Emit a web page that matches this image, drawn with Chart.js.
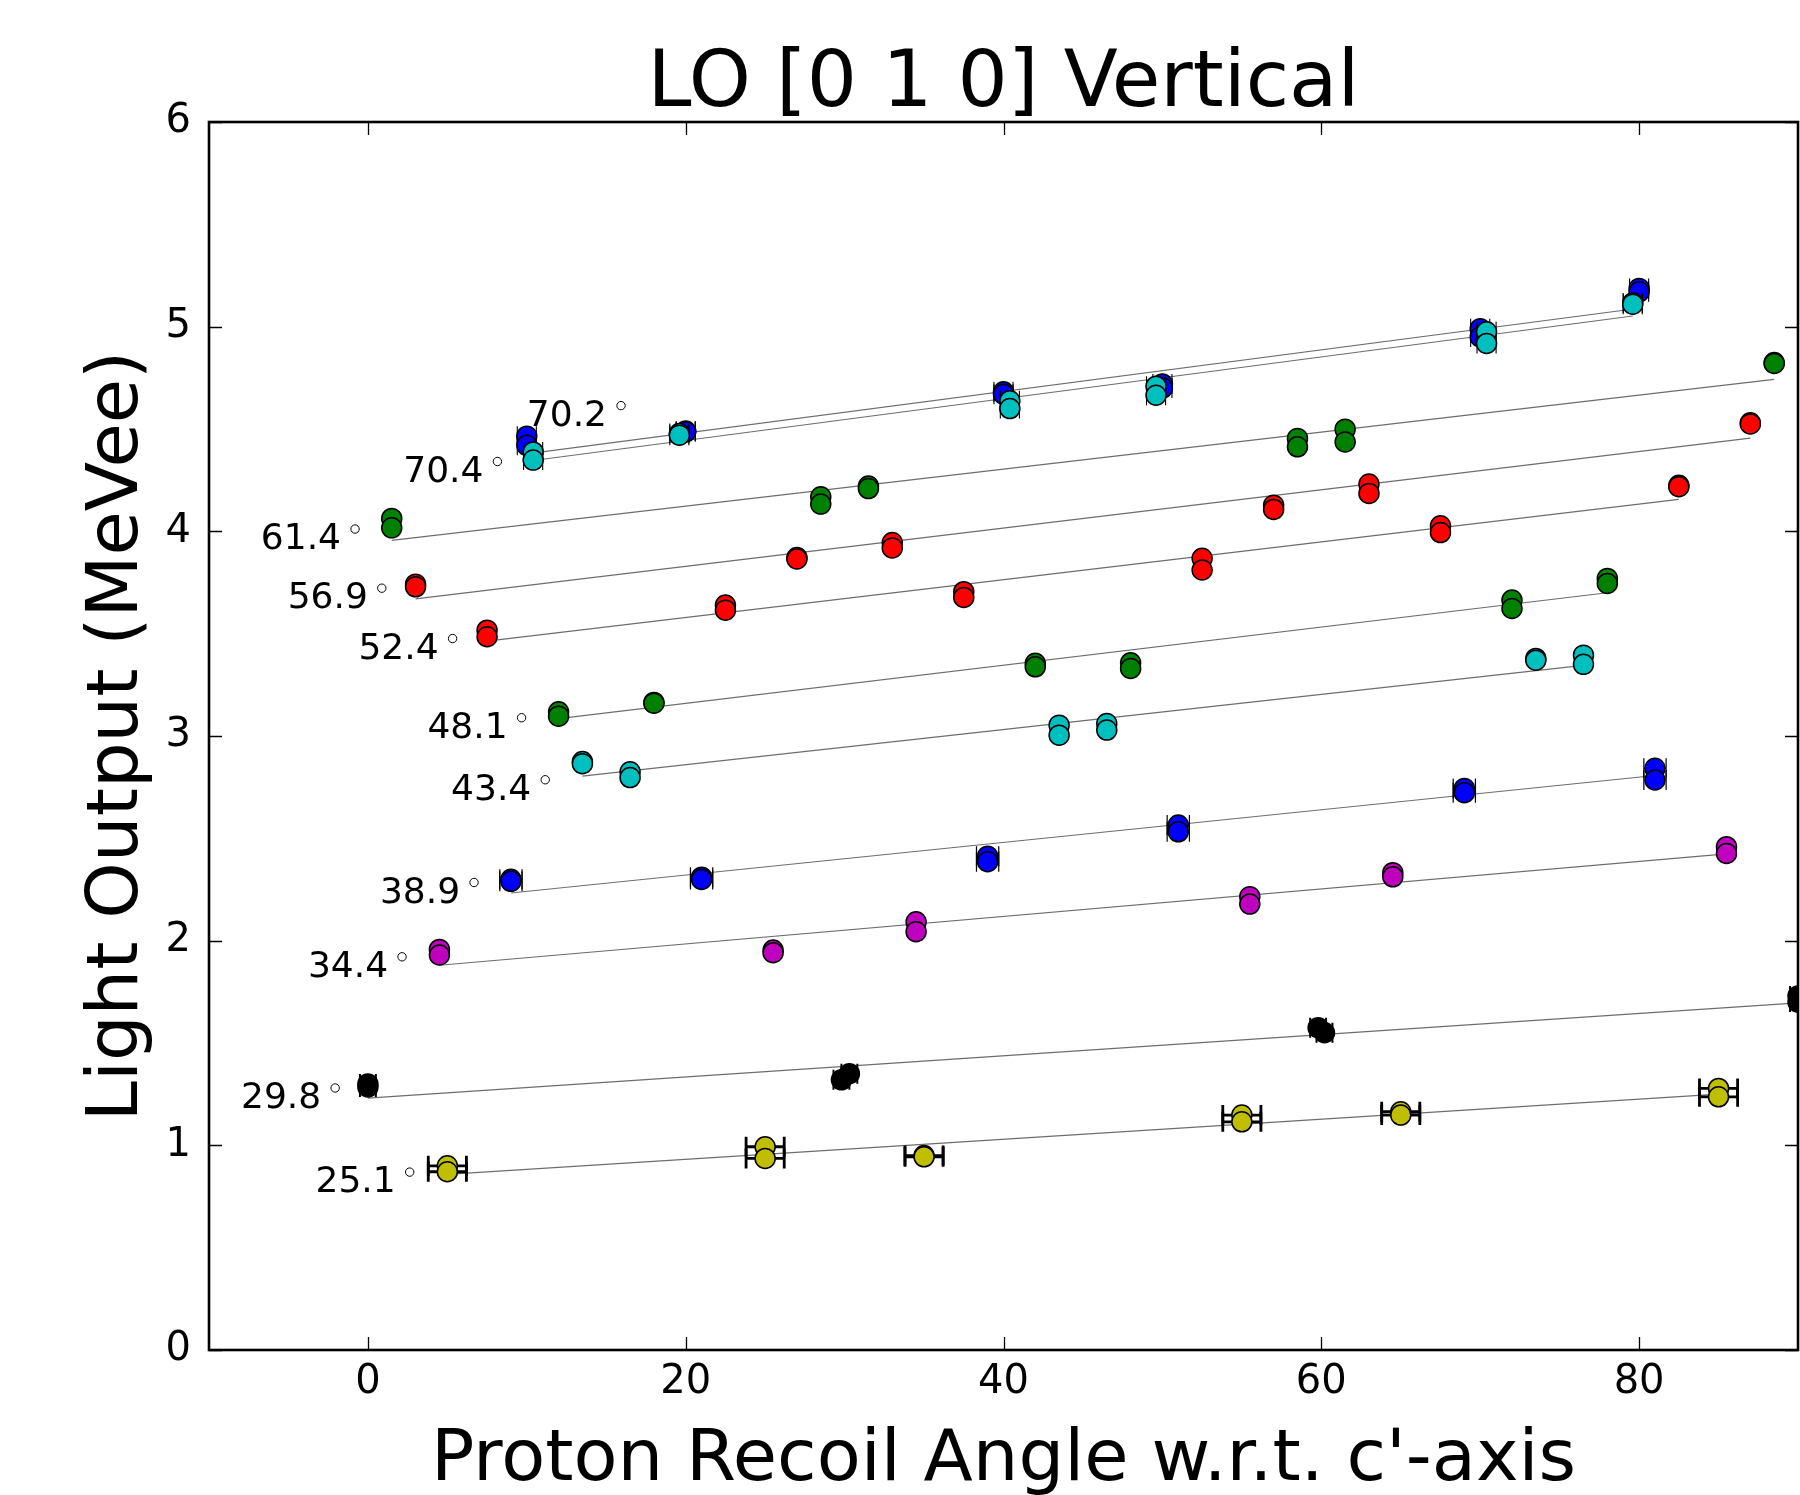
<!DOCTYPE html>
<html>
<head>
<meta charset="utf-8">
<title>LO [0 1 0] Vertical</title>
<script src="https://cdn.jsdelivr.net/npm/chart.js"></script>
<style>
	html, body { margin: 0; padding: 0; background: #ffffff; }
	#loChart { display: block; }
</style>
</head>
<body>
<canvas id="loChart" width="1800" height="1495"></canvas>
<script>
// Recoil angle for each run (degrees)
const angleLabels = ["25.1", "29.8", "34.4", "38.9", "43.4", "48.1", "52.4", "56.9", "61.4", "70.2", "70.4"];

// Measured light output, two runs per rotation angle
const x25 = [5, 5, 25, 25, 35, 35, 55, 55, 65, 65, 85, 85];
const y25 = [0.90, 0.871, 0.993, 0.936, 0.95, 0.944, 1.148, 1.115, 1.164, 1.148, 1.278, 1.237];
const x29 = [0, 0, 29.8, 30.3, 59.8, 60.2, 90, 90];
const y29 = [1.30, 1.285, 1.32, 1.35, 1.575, 1.55, 1.73, 1.70];
const x34 = [4.5, 4.5, 25.5, 25.5, 34.5, 34.5, 55.5, 55.5, 64.5, 64.5, 85.5, 85.5];
const y34 = [1.957, 1.93, 1.954, 1.941, 2.092, 2.044, 2.215, 2.179, 2.332, 2.312, 2.459, 2.426];
const x38 = [9, 9, 21, 21, 39, 39, 51, 51, 69, 69, 81, 81];
const y38 = [2.30, 2.29, 2.31, 2.299, 2.413, 2.386, 2.565, 2.532, 2.744, 2.723, 2.842, 2.785];
const x43 = [13.5, 13.5, 16.5, 16.5, 43.5, 43.5, 46.5, 46.5, 73.5, 73.5, 76.5, 76.5];
const y43 = [2.875, 2.865, 2.825, 2.797, 3.053, 3.004, 3.061, 3.029, 3.379, 3.37, 3.395, 3.35];
const x48 = [12, 12, 18, 18, 42, 42, 48, 48, 72, 72, 78, 78];
const y48 = [3.118, 3.097, 3.164, 3.16, 3.355, 3.338, 3.358, 3.33, 3.664, 3.623, 3.77, 3.745];
const x52 = [7.5, 7.5, 22.5, 22.5, 37.5, 37.5, 52.5, 52.5, 67.5, 67.5, 82.5, 82.5];
const y52 = [3.517, 3.485, 3.64, 3.615, 3.705, 3.677, 3.868, 3.811, 4.027, 3.994, 4.225, 4.218];
const x56 = [3, 3, 27, 27, 33, 33, 57, 57, 63, 63, 87, 87];
const y56 = [3.742, 3.729, 3.872, 3.865, 3.945, 3.919, 4.128, 4.107, 4.231, 4.185, 4.53, 4.525];
const x61 = [1.5, 1.5, 28.5, 28.5, 31.5, 31.5, 58.5, 58.5, 61.5, 61.5, 88.5, 88.5];
const y61 = [4.063, 4.017, 4.169, 4.133, 4.221, 4.209, 4.454, 4.413, 4.499, 4.437, 4.825, 4.82];
const x70a = [10, 10, 20, 20, 40, 40, 50, 50, 70, 70, 80, 80];
const y70a = [4.465, 4.42, 4.49, 4.486, 4.682, 4.67, 4.72, 4.70, 4.99, 4.95, 5.187, 5.17];
const x70b = [10.4, 10.4, 19.6, 19.6, 40.4, 40.4, 49.6, 49.6, 70.4, 70.4, 79.6, 79.6];
const y70b = [4.388, 4.348, 4.478, 4.47, 4.638, 4.60, 4.709, 4.665, 4.975, 4.918, 5.116, 5.11];

// Angular uncertainty (degrees) per run
const xErrs = [1.2, 0.5, 0, 0.7, 0, 0, 0, 0, 0, 0.6, 0.6];

// Linear fit end points per run
const fitStartX = [5, 0, 4.5, 9, 13.5, 12, 7.5, 3, 1.5, 10, 10.4];
const fitEndX = [85, 90, 85.5, 81, 76.5, 78, 82.5, 87, 88.5, 80, 79.6];
const fitStartY = [0.858, 1.231, 1.88, 2.233, 2.804, 3.085, 3.464, 3.67, 3.956, 4.378, 4.346];
const fitEndY = [1.25, 1.696, 2.424, 2.807, 3.345, 3.70, 4.156, 4.455, 4.742, 5.09, 5.052];

// Where the angle annotations sit (degree ring centre x, text centre y)
const labelX = [2.63, -2.06, 2.15, 6.68, 11.16, 9.67, 5.33, 0.875, -0.81, 15.93, 8.15];
const labelY = [0.835, 1.246, 1.887, 2.25, 2.752, 3.055, 3.442, 3.688, 3.977, 4.58, 4.307];

const xTicks = [0, 20, 40, 60, 80];
const yTicks = [0, 1, 2, 3, 4, 5, 6];

const seriesX = [x25, x29, x34, x38, x43, x48, x52, x56, x61, x70a, x70b];
const seriesY = [y25, y29, y34, y38, y43, y48, y52, y56, y61, y70a, y70b];

// matplotlib classic colours
const colors = ["#bfbf00", "#000000", "#bf00bf", "#0000ff", "#00bfbf", "#008000", "#ff0000", "#ff0000", "#008000", "#0000ff", "#00bfbf"];
const errWidths = [2.8, 2, 1.2, 1.2, 1.2, 1.2, 1.2, 1.2, 1.2, 1.1, 1.1];

const FONT = "'DejaVu Sans', 'Liberation Sans', sans-serif";

function buildDatasets() {
	let sets = [];
	// fit lines go underneath everything
	for (let i = 0; i < angleLabels.length; i++) {
		sets.push({
			label: angleLabels[i] + " fit",
			data: [
				{ x: fitStartX[i], y: fitStartY[i] },
				{ x: fitEndX[i], y: fitEndY[i] },
			],
			showLine: true,
			borderColor: "rgba(60, 60, 60, 0.75)",
			borderWidth: 1.2,
			pointRadius: 0,
			fill: false,
			clip: 0,
			order: 50,
		});
	}
	for (let i = 0; i < angleLabels.length; i++) {
		sets.push({
			label: angleLabels[i],
			data: seriesX[i].map((x, j) => ({ x: x, y: seriesY[i][j] })),
			backgroundColor: colors[i],
			borderColor: "#000000",
			borderWidth: 1.5,
			pointRadius: 10,
			showLine: false,
			xErr: xErrs[i],
			errWidth: errWidths[i],
			clip: 0,
			order: angleLabels.length - i,
		});
	}
	return sets;
}

// horizontal error bars, drawn right before each dataset's markers
const errorBarPlugin = {
	id: "errorBars",
	beforeDatasetDraw(chart, args) {
		const ds = chart.data.datasets[args.index];
		if (!ds.xErr) return;
		const ctx = chart.ctx;
		const area = chart.chartArea;
		const xs = chart.scales.x;
		ctx.save();
		ctx.beginPath();
		ctx.rect(area.left, area.top, area.right - area.left, area.bottom - area.top);
		ctx.clip();
		ctx.strokeStyle = "#000000";
		ctx.lineWidth = ds.errWidth;
		ds.data.forEach((pt, j) => {
			const el = args.meta.data[j];
			const x0 = xs.getPixelForValue(pt.x - ds.xErr);
			const x1 = xs.getPixelForValue(pt.x + ds.xErr);
			ctx.beginPath();
			ctx.moveTo(x0, el.y);
			ctx.lineTo(x1, el.y);
			ctx.moveTo(x0, el.y - 10);
			ctx.lineTo(x0, el.y + 10);
			ctx.moveTo(x1, el.y - 10);
			ctx.lineTo(x1, el.y + 10);
			ctx.stroke();
		});
		ctx.restore();
	},
};

// frame, inward ticks, titles and angle annotations
const decorPlugin = {
	id: "decor",
	afterDraw(chart) {
		const ctx = chart.ctx;
		const a = chart.chartArea;
		const xs = chart.scales.x;
		const ys = chart.scales.y;

		ctx.save();
		ctx.strokeStyle = "#000000";
		ctx.lineWidth = 1.3;
		ctx.beginPath();
		xTicks.forEach((v) => {
			const px = Math.round(xs.getPixelForValue(v)) + 0.5;
			ctx.moveTo(px, a.bottom);
			ctx.lineTo(px, a.bottom - 13);
			ctx.moveTo(px, a.top);
			ctx.lineTo(px, a.top + 13);
		});
		yTicks.forEach((v) => {
			const py = Math.round(ys.getPixelForValue(v)) + 0.5;
			ctx.moveTo(a.left, py);
			ctx.lineTo(a.left + 13, py);
			ctx.moveTo(a.right, py);
			ctx.lineTo(a.right - 13, py);
		});
		ctx.stroke();

		ctx.lineWidth = 2.6;
		ctx.strokeRect(a.left, a.top, a.right - a.left, a.bottom - a.top);

		// angle labels with a small ring for the degree sign
		ctx.fillStyle = "#000000";
		ctx.font = "36px " + FONT;
		ctx.textAlign = "right";
		ctx.textBaseline = "alphabetic";
		ctx.lineWidth = 1;
		for (let i = 0; i < angleLabels.length; i++) {
			const px = xs.getPixelForValue(labelX[i]);
			const py = ys.getPixelForValue(labelY[i]);
			ctx.fillText(angleLabels[i], px - 14, py + 13);
			ctx.beginPath();
			ctx.arc(px, py - 7, 4.2, 0, Math.PI * 2);
			ctx.stroke();
		}

		// title and axis titles
		const cx = (a.left + a.right) / 2;
		ctx.textAlign = "center";
		ctx.font = "79px " + FONT;
		ctx.fillText("LO [0 1 0] Vertical", cx, 106);
		ctx.font = "72px " + FONT;
		ctx.fillText("Proton Recoil Angle w.r.t. c'-axis", cx, 1480);
		ctx.translate(137, (a.top + a.bottom) / 2);
		ctx.rotate(-Math.PI / 2);
		ctx.fillText("Light Output (MeVee)", 0, 0);
		ctx.restore();
	},
};

let chart;

function initChart() {
	const ctx = document.getElementById("loChart").getContext("2d");
	chart = new Chart(ctx, {
		type: "scatter",
		data: { datasets: buildDatasets() },
		options: {
			responsive: false,
			animation: false,
			devicePixelRatio: 1,
			events: [],
			layout: {
				autoPadding: false,
				padding: { top: 122, right: 2, bottom: 0, left: 0 },
			},
			plugins: {
				legend: { display: false },
				tooltip: { enabled: false },
				title: { display: false },
			},
			scales: {
				x: {
					type: "linear",
					min: -10,
					max: 90,
					grid: { display: false, drawTicks: false },
					border: { display: false },
					afterBuildTicks: (scale) => {
						scale.ticks = xTicks.map((v) => ({ value: v }));
					},
					afterFit: (scale) => {
						scale.height = 145;
						scale.paddingLeft = 0;
						scale.paddingRight = 0;
					},
					ticks: {
						color: "#000000",
						padding: 9,
						font: { family: FONT, size: 40 },
					},
				},
				y: {
					type: "linear",
					min: 0,
					max: 6,
					grid: { display: false, drawTicks: false },
					border: { display: false },
					afterBuildTicks: (scale) => {
						scale.ticks = yTicks.map((v) => ({ value: v }));
					},
					afterFit: (scale) => {
						scale.width = 209;
						scale.paddingTop = 0;
						scale.paddingBottom = 0;
					},
					ticks: {
						color: "#000000",
						padding: 18,
						font: { family: FONT, size: 40 },
					},
				},
			},
		},
		plugins: [errorBarPlugin, decorPlugin],
	});
}

initChart();
</script>
</body>
</html>
